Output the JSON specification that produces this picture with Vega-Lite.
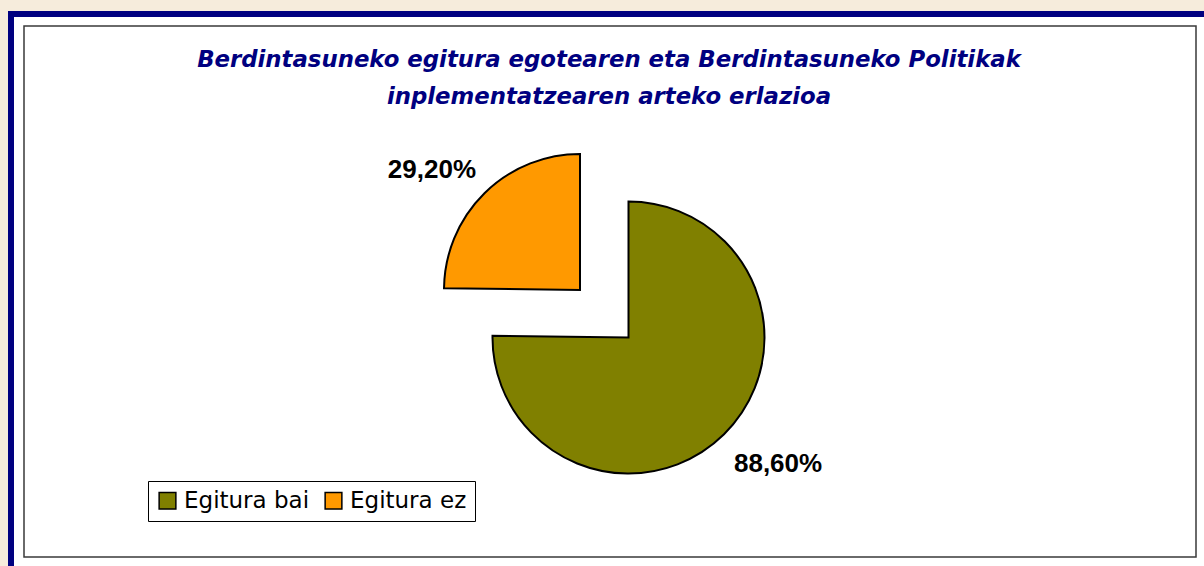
{
  "$schema": "https://vega.github.io/schema/vega-lite/v6.json",
  "width": 1203,
  "height": 562,
  "autosize": {"type": "none"},
  "padding": {"left": 11, "top": 14, "right": -10, "bottom": -10},
  "background": "#f6ecdc",
  "view": {"stroke": "#000080", "strokeWidth": 6, "fill": "white"},
  "title": {
    "text": ["Berdintasuneko egitura egotearen eta Berdintasuneko Politikak", "inplementatzearen arteko erlazioa"],
    "font": "DejaVu Sans",
    "fontSize": 22.8,
    "fontWeight": "bold",
    "fontStyle": "italic",
    "color": "#000080",
    "lineHeight": 37,
    "baseline": "alphabetic",
    "anchor": "middle",
    "frame": "group",
    "offset": -56.5,
    "dx": -3.5,
    "dy": 56.5
  },
  "data": {
    "values": [
      {"k": "Egitura bai", "v": 88.6, "lbl": "88,60%"},
      {"k": "Egitura ez", "v": 29.2, "lbl": "29,20%"}
    ]
  },
  "layer": [
    {
      "data": {"values": [{"edge": 0, "edge2": 1}]},
      "mark": {"type": "rect", "filled": false, "stroke": "#3a3a3a", "strokeWidth": 1.5},
      "encoding": {
        "x": {"field": "edge", "type": "quantitative", "scale": {"domain": [0, 1], "range": [13, 1185]}, "axis": null},
        "x2": {"field": "edge2"},
        "y": {"field": "edge", "type": "quantitative", "scale": {"domain": [0, 1], "range": [12, 543]}, "axis": null},
        "y2": {"field": "edge2"}
      }
    },
    {
      "mark": {"type": "arc", "radius": 136, "stroke": "black", "strokeWidth": 2, "xOffset": 16, "yOffset": 42.5},
      "encoding": {
        "theta": {"field": "v", "type": "quantitative", "stack": true},
        "order": {"field": "v", "type": "quantitative", "sort": "descending"},
        "color": {
          "field": "k", "type": "nominal",
          "scale": {"domain": ["Egitura bai", "Egitura ez"], "range": ["#808000", "#FF9900"]},
          "legend": {
            "title": null, "orient": "none", "legendX": 137, "legendY": 467, "direction": "horizontal",
            "symbolType": "square", "symbolSize": 280, "symbolStrokeColor": "black", "symbolStrokeWidth": 1.5,
            "labelFont": "DejaVu Sans", "labelFontSize": 23, "labelColor": "black", "labelOffset": 5,
            "columnPadding": 12, "padding": 8, "strokeColor": "black", "fillColor": "white"
          }
        },
        "opacity": {"condition": {"test": "datum.k == 'Egitura bai'", "value": 1}, "value": 0}
      }
    },
    {
      "mark": {"type": "arc", "radius": 136, "stroke": "black", "strokeWidth": 2, "xOffset": -32.5, "yOffset": -5},
      "encoding": {
        "theta": {"field": "v", "type": "quantitative", "stack": true},
        "order": {"field": "v", "type": "quantitative", "sort": "descending"},
        "color": {"field": "k", "type": "nominal"},
        "opacity": {"condition": {"test": "datum.k == 'Egitura ez'", "value": 1}, "value": 0}
      }
    },
    {
      "mark": {"type": "text", "radius": 190, "font": "Liberation Sans", "fontWeight": "bold", "fontSize": 26, "color": "black", "align": "center", "baseline": "middle", "xOffset": 32.1, "yOffset": 33.7},
      "encoding": {
        "theta": {"field": "v", "type": "quantitative", "stack": true},
        "order": {"field": "v", "type": "quantitative", "sort": "descending"},
        "text": {"field": "lbl", "type": "nominal"},
        "opacity": {"condition": {"test": "datum.k == 'Egitura bai'", "value": 1}, "value": 0}
      }
    },
    {
      "mark": {"type": "text", "radius": 190, "font": "Liberation Sans", "fontWeight": "bold", "fontSize": 26, "color": "black", "align": "center", "baseline": "middle", "xOffset": -47.1, "yOffset": 9.8},
      "encoding": {
        "theta": {"field": "v", "type": "quantitative", "stack": true},
        "order": {"field": "v", "type": "quantitative", "sort": "descending"},
        "text": {"field": "lbl", "type": "nominal"},
        "opacity": {"condition": {"test": "datum.k == 'Egitura ez'", "value": 1}, "value": 0}
      }
    }
  ],
  "config": {
    "view": {"stroke": "#000080", "strokeWidth": 6, "fill": "white"}
  }
}
